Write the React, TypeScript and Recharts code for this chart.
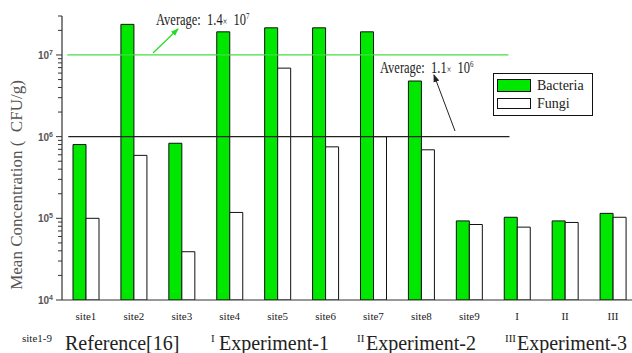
import React from 'react';
import { BarChart, Bar, XAxis, YAxis, ReferenceLine, Legend, Customized } from 'recharts';

const categories = ['site1', 'site2', 'site3', 'site4', 'site5', 'site6', 'site7', 'site8', 'site9', 'I', 'II', 'III'];
const bacteria = [8.0e5, 2.37e7, 8.3e5, 1.92e7, 2.15e7, 2.15e7, 1.92e7, 4.8e6, 9.3e4, 1.03e5, 9.3e4, 1.15e5];
const fungi = [1.0e5, 5.9e5, 3.9e4, 1.18e5, 6.9e6, 7.5e5, 1.0e6, 6.9e5, 8.4e4, 7.8e4, 8.9e4, 1.03e5];
const yTicks = [
  1e4, 2e4, 3e4, 4e4, 5e4, 6e4, 7e4, 8e4, 9e4,
  1e5, 2e5, 3e5, 4e5, 5e5, 6e5, 7e5, 8e5, 9e5,
  1e6, 2e6, 3e6, 4e6, 5e6, 6e6, 7e6, 8e6, 9e6,
  1e7, 2e7, 3e7,
];
const majorTicks = [1e4, 1e5, 1e6, 1e7];
const bacteriaAvgLine = 1e7;
const fungiAvgLine = 1e6;

const data = categories.map((c, i) => ({ name: c, Bacteria: bacteria[i], Fungi: fungi[i] }));

const SERIF = '"Liberation Serif", "DejaVu Serif", serif';
const SANS = '"Liberation Sans", Arial, sans-serif';
const GREEN = '#00e800';

const YTick = (props: any) => {
  const { x, y, payload } = props;
  const v = payload.value;
  const major = majorTicks.some((m) => Math.abs(m - v) / m < 1e-6);
  const exp = Math.round(Math.log10(v));
  return (
    <g>
      <line x1={x - (major ? 6 : 4)} x2={x} y1={y} y2={y} stroke="#333" strokeWidth={1} />
      {major && (
        <text x={x - 9} y={y + 4} textAnchor="end" fontFamily={SANS} fontSize={10} fontWeight="bold" fill="#555">
          10
          <tspan fontSize={7} dy={-4}>{exp}</tspan>
        </text>
      )}
    </g>
  );
};

const XTick = (props: any) => {
  const { x, y, payload } = props;
  return (
    <text x={x} y={y + 20} textAnchor="middle" fontFamily={SERIF} fontSize={11} fill="#222">
      {payload.value}
    </text>
  );
};

const LegendContent = (props: any) => {
  const payload = props.payload || [];
  return (
    <div
      style={{
        width: 100,
        height: 43,
        boxSizing: 'border-box',
        border: '1px solid #111',
        background: '#fff',
        fontFamily: SERIF,
        fontSize: 14,
        color: '#222',
        paddingTop: 3,
        paddingLeft: 3,
        textAlign: 'left',
      }}
    >
      {payload.map((p: any, i: number) => (
        <div key={i} style={{ display: 'flex', alignItems: 'center', height: i === 0 ? 17 : 19 }}>
          <div
            style={{
              width: 34,
              height: i === 0 ? 13 : 11,
              boxSizing: 'border-box',
              border: '1px solid #111',
              background: p.payload && p.payload.fill ? p.payload.fill : p.color,
              marginRight: 6,
            }}
          />
          <span>{p.value}</span>
        </div>
      ))}
    </div>
  );
};

const Annotations = () => (
  <g>
    <defs>
      <marker id="arrG" markerWidth="8" markerHeight="8" refX="7" refY="4" orient="auto" markerUnits="userSpaceOnUse">
        <path d="M0,1 L8,4 L0,7 z" fill="#22dd22" />
      </marker>
      <marker id="arrK" markerWidth="8" markerHeight="8" refX="7" refY="4" orient="auto" markerUnits="userSpaceOnUse">
        <path d="M0,1 L8,4 L0,7 z" fill="#222" />
      </marker>
    </defs>
    <line x1={153} y1={53} x2={178} y2={29} stroke="#22dd22" strokeWidth={1.2} markerEnd="url(#arrG)" />
    <line x1={455} y1={131} x2={434} y2={75} stroke="#222" strokeWidth={1} markerEnd="url(#arrK)" />
    <text transform="translate(156,25) scale(1,1.3)" fontFamily={SERIF} fontSize={12.5} fill="#222">
      Average:{'\u00a0\u00a0'}1.4<tspan fontSize={8}>×</tspan>{'\u00a0\u00a0'}10
      <tspan fontSize={7} dy={-5}>7</tspan>
    </text>
    <text transform="translate(380,73) scale(1,1.3)" fontFamily={SERIF} fontSize={12.5} fill="#222">
      Average:{'\u00a0\u00a0'}1.1<tspan fontSize={8}>×</tspan>{'\u00a0\u00a0'}10
      <tspan fontSize={7} dy={-5}>6</tspan>
    </text>
    <text
      x={16}
      y={185}
      transform="rotate(-90 16 185)"
      textAnchor="middle"
      dominantBaseline="central"
      fontFamily={SERIF}
      fontSize={17}
      fill="#555"
    >
      {'Mean Concentration\u00a0(\u00a0\u00a0CFU/g)'}
    </text>
    <text x={22} y={342} fontFamily={SERIF} fontSize={11} fill="#222">site1-9</text>
    <text x={65} y={350} fontFamily={SERIF} fontSize={20} fill="#222">Reference[16]</text>
    <text x={211} y={342} fontFamily={SERIF} fontSize={11} fill="#222">I</text>
    <text x={219} y={350} fontFamily={SERIF} fontSize={20} fill="#222">Experiment-1</text>
    <text x={357} y={342} fontFamily={SERIF} fontSize={11} fill="#222">II</text>
    <text x={366} y={350} fontFamily={SERIF} fontSize={20} fill="#222">Experiment-2</text>
    <text x={505} y={342} fontFamily={SERIF} fontSize={11} fill="#222">III</text>
    <text x={517} y={350} fontFamily={SERIF} fontSize={20} fill="#222">Experiment-3</text>
  </g>
);

export default function App() {
  return (
    <div style={{ position: 'absolute', left: 0, top: 0, width: 632, height: 353, overflow: 'hidden', background: '#fff' }}>
      <BarChart
        width={640}
        height={353}
        data={data}
        margin={{ top: 16, right: 3, bottom: 0, left: 0 }}
        barGap={0}
        barSize={13}
      >
        <XAxis
          dataKey="name"
          height={53}
          tickLine={false}
          tickSize={0}
          tickMargin={0}
          interval={0}
          tick={<XTick />}
          axisLine={{ stroke: '#333', strokeWidth: 1 }}
        />
        <XAxis xAxisId="n" type="number" domain={[0, 12]} hide allowDataOverflow />
        <YAxis
          scale="log"
          type="number"
          domain={[1e4, 3e7]}
          allowDataOverflow
          ticks={yTicks}
          interval={0}
          width={62}
          tickLine={false}
          tickSize={0}
          tickMargin={0}
          tick={<YTick />}
          axisLine={{ stroke: '#333', strokeWidth: 1.2 }}
        />
        <Bar dataKey="Bacteria" name="Bacteria" fill={GREEN} stroke="#111" strokeWidth={1} isAnimationActive={false} />
        <Bar dataKey="Fungi" name="Fungi" fill="#ffffff" stroke="#111" strokeWidth={1} isAnimationActive={false} />
        <ReferenceLine
          xAxisId="n"
          segment={[{ x: 0.1, y: bacteriaAvgLine }, { x: 8.54, y: bacteriaAvgLine }]}
          stroke="#44dd44"
          strokeWidth={1.2}
        />
        <ReferenceLine
          xAxisId="n"
          segment={[{ x: 0.12, y: fungiAvgLine }, { x: 8.56, y: fungiAvgLine }]}
          stroke="#222"
          strokeWidth={1.2}
        />
        <Legend
          layout="horizontal"
          verticalAlign="middle"
          align="center"
          content={<LegendContent />}
          wrapperStyle={{ position: 'absolute', left: 493, top: 73, width: 100, height: 43 }}
        />
        <Customized component={Annotations} />
      </BarChart>
    </div>
  );
}
